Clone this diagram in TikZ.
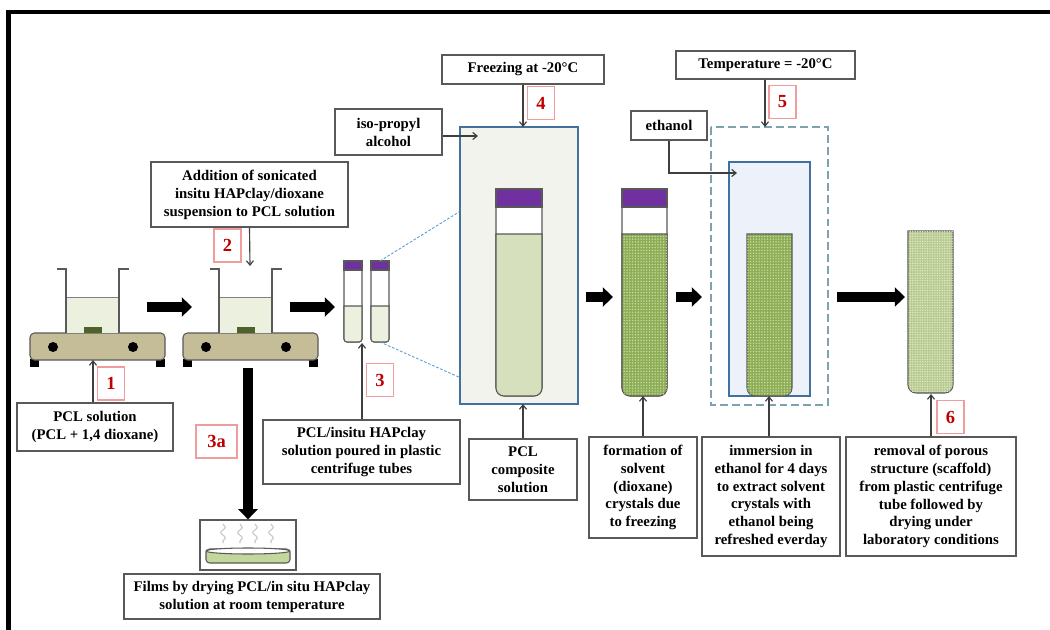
\documentclass[tikz,border=0pt]{standalone}
\usepackage{fontspec}
\setmainfont{Liberation Serif}
\usepackage{tikz}
\usetikzlibrary{arrows.meta,patterns.meta,decorations.pathmorphing}
\definecolor{boxgray}{HTML}{595959}
\definecolor{stepred}{HTML}{C00000}
\definecolor{steppink}{HTML}{F19C9C}
\definecolor{capviolet}{HTML}{7030A0}
\definecolor{platetan}{HTML}{C4BD97}
\definecolor{stirgreen}{HTML}{4F6228}
\definecolor{paleliquid}{HTML}{EBF1DE}
\definecolor{compgreen}{HTML}{D7E0BC}
\definecolor{bathbeige}{HTML}{F3F3ED}
\definecolor{bathblue}{HTML}{EDF1F9}
\definecolor{rimblue}{HTML}{41719C}
\definecolor{freezerteal}{HTML}{7FA3AE}
\definecolor{crystal}{HTML}{8DAE55}
\definecolor{crystaldot}{HTML}{CADBA8}
\definecolor{scaffold}{HTML}{B9CB90}
\definecolor{scaffolddot}{HTML}{E6EDD5}
\definecolor{zoomblue}{HTML}{5B9BD5}
\definecolor{filmgreen}{HTML}{C3D69B}

\newcommand{\px}{0.2mm}
% tube with round bottom: left, right, top, bottom, corner radius
\newcommand{\tubeoutline}[5]{(#1,#3) -- (#1,#4-#5) arc[start angle=180, end angle=90, radius=#5] -- (#2-#5,#4) arc[start angle=90, end angle=0, radius=#5] -- (#2,#3) -- cycle}

\begin{document}
\begin{tikzpicture}[x=0.2mm, y=-0.2mm,
  textbox/.style={draw=boxgray, fill=white, line width=0.7pt, align=center, inner sep=0pt,
    font=\fontsize{8.4}{10.2}\selectfont\bfseries},
  stepno/.style={draw=steppink, fill=white, text=stepred, line width=0.6pt, inner sep=0pt,
    minimum width=27*\px, minimum height=33*\px, font=\fontsize{10.5}{12}\selectfont\bfseries},
  fatarrow/.style={line width=5.4pt, -{Triangle[length=5.8pt, width=10.8pt]}},
  thinarrow/.style={draw=boxgray!70!black, line width=0.65pt, -{Straight Barb[length=2.5pt, width=4pt]}},
  tubeline/.style={draw=boxgray, line width=0.6pt},
  bath/.style={draw=rimblue, line width=1.4pt}]

  \useasboundingbox (0,0) rectangle (1050,630);

  % page frame
  \draw[line width=2.3pt] (8.5,630) -- (8.5,12) -- (1050,12);

  % first stirrer
  \fill (30,359) rectangle (39,367);
  \fill (156,359) rectangle (165,367);
  \draw[tubeline, fill=platetan, rounded corners=2.5pt] (30,333) rectangle (165,360);
  \fill (53,347) circle[radius=5];
  \fill (133,347) circle[radius=5];
  \draw[draw=gray, fill=paleliquid, line width=0.5pt] (66,297) rectangle (119,333);
  \fill[stirgreen] (84,327) rectangle (102,333);
  \draw[tubeline] (57,269) -- (66,269) -- (66,333);
  \draw[tubeline] (119,333) -- (119,269) -- (129,269);

  % second stirrer
  \begin{scope}[shift={(153,0)}]
    \fill (30,359) rectangle (39,367);
    \fill (156,359) rectangle (165,367);
    \draw[tubeline, fill=platetan, rounded corners=2.5pt] (30,333) rectangle (165,360);
    \fill (53,347) circle[radius=5];
    \fill (133,347) circle[radius=5];
    \draw[draw=gray, fill=paleliquid, line width=0.5pt] (66,297) rectangle (119,333);
    \fill[stirgreen] (84,327) rectangle (102,333);
    \draw[tubeline] (57,269) -- (66,269) -- (66,333);
    \draw[tubeline] (119,333) -- (119,269) -- (129,269);
  \end{scope}

  % small centrifuge tubes
  \draw[tubeline, fill=white] \tubeoutline{344}{362}{270}{342}{3};
  \draw[tubeline, fill=paleliquid] \tubeoutline{344}{362}{306}{342}{3};
  \draw[tubeline, fill=capviolet] (344,261) rectangle (362,270);
  \draw[tubeline, fill=white] \tubeoutline{371}{389}{270}{342}{3};
  \draw[tubeline, fill=paleliquid] \tubeoutline{371}{389}{306}{342}{3};
  \draw[tubeline, fill=capviolet] (371,261) rectangle (389,270);

  % zoom lines to the big tube
  \draw[zoomblue, line width=0.5pt, dash pattern=on 1.5pt off 1pt] (380,261) -- (496,189);
  \draw[zoomblue, line width=0.5pt, dash pattern=on 1.5pt off 1pt] (380,342) -- (497,394);

  % freezer bath with composite tube
  \draw[bath, fill=bathbeige] (460,127) rectangle (578,404);
  \draw[tubeline, fill=white] \tubeoutline{496}{542}{207}{396}{8};
  \draw[tubeline, fill=compgreen] \tubeoutline{496}{542}{234}{396}{8};
  \draw[tubeline, fill=capviolet, line width=0.8pt] (496,189) rectangle (542,207);

  % frozen tube with crystals
  \draw[tubeline, fill=white] \tubeoutline{622}{667}{207}{396}{8};
  \draw[tubeline, fill=crystal, postaction={pattern={Dots[distance=1.6pt, radius=0.45pt]}, pattern color=crystaldot}] \tubeoutline{622}{667}{234}{396}{8};
  \draw[tubeline, fill=capviolet, line width=0.8pt] (622,189) rectangle (667,207);

  % ethanol bath in the freezer
  \draw[freezerteal, line width=1.4pt, dash pattern=on 4.5pt off 2.3pt] (711,127) rectangle (828,405);
  \draw[bath, fill=bathblue] (729,162) rectangle (810,396);
  \draw[tubeline, fill=crystal, postaction={pattern={Dots[distance=1.6pt, radius=0.45pt]}, pattern color=crystaldot}] \tubeoutline{747}{792}{234}{396}{8};

  % dried scaffold
  \draw[tubeline, fill=scaffold, postaction={pattern={Dots[distance=1.4pt, radius=0.4pt]}, pattern color=scaffolddot}] \tubeoutline{908}{953}{231}{393}{8};

  % film in a dish
  \node[textbox, minimum width=96*\px, minimum height=50*\px] (dishbox) at (248,545) {};
  \foreach \sx in {223,240,255,271}
    \draw[gray!45, line width=0.6pt, decorate, decoration={snake, amplitude=1.3pt, segment length=6pt}] (\sx,524) -- (\sx,543);
  \draw[tubeline, fill=filmgreen, rounded corners=2pt] (206,549) rectangle (290,563);
  \draw[tubeline, fill=white] (248,551) ellipse[x radius=42, y radius=3];

  % points on the drawings
  \coordinate (plate1) at (93,360);
  \coordinate (beaker2) at (250,266);
  \coordinate (tubeS) at (362,343);
  \coordinate (isoend) at (478,136);
  \coordinate (bath4top) at (523,127);
  \coordinate (bath4bot) at (523,404);
  \coordinate (crystalbot) at (643,396);
  \coordinate (bath5top) at (765,127);
  \coordinate (ethend) at (737,173);
  \coordinate (soakbot) at (769,396);
  \coordinate (scaffoldbot) at (931,394);
  \coordinate (a1s) at (147,307);
  \coordinate (a1e) at (192,307);
  \coordinate (a2s) at (290,307);
  \coordinate (a2e) at (335,307);
  \coordinate (a3s) at (586,297);
  \coordinate (a3e) at (613,297);
  \coordinate (a4s) at (676,297);
  \coordinate (a4e) at (702,297);
  \coordinate (a5s) at (837,297);
  \coordinate (a5e) at (905,297);
  \coordinate (filmstart) at (248,368);

  % text boxes
  \node[textbox, minimum width=197*\px, minimum height=65*\px] (addition) at (249.5,194.5)
    {Addition of sonicated\\insitu HAPclay/dioxane\\suspension to PCL solution};
  \node[textbox, minimum width=156*\px, minimum height=48*\px] (pclsol) at (95,427)
    {PCL solution\\(PCL + 1,4 dioxane)};
  \node[textbox, minimum width=256*\px, minimum height=45*\px] (films) at (252,596.5)
    {Films by drying PCL/in situ HAPclay\\solution at room temperature};
  \node[textbox, minimum width=197*\px, minimum height=64*\px] (poured) at (361.5,452)
    {PCL/insitu HAPclay\\solution poured in plastic\\centrifuge tubes};
  \node[textbox, minimum width=107*\px, minimum height=46*\px] (isoprop) at (388.5,132)
    {iso-propyl\\alcohol};
  \node[textbox, minimum width=162*\px, minimum height=29*\px] (freezing) at (523,69.5)
    {Freezing at -20°C};
  \node[textbox, minimum width=108*\px, minimum height=61*\px] (composite) at (523,469.5)
    {PCL\\composite\\solution};
  \node[textbox, minimum width=108*\px, minimum height=101*\px] (formation) at (643,487.5)
    {formation of\\solvent\\(dioxane)\\crystals due\\to freezing};
  \node[textbox, minimum width=179*\px, minimum height=28*\px] (temperature) at (765.5,65)
    {Temperature = -20°C};
  \node[textbox, minimum width=76*\px, minimum height=29*\px] (ethanol) at (669,125.5)
    {ethanol};
  \node[textbox, minimum width=138*\px, minimum height=119*\px] (immersion) at (771,496.5)
    {immersion in\\ethanol for 4 days\\to extract solvent\\crystals with\\ethanol being\\refreshed everday};
  \node[textbox, minimum width=170*\px, minimum height=119*\px] (removal) at (931,496.5)
    {removal of porous\\structure (scaffold)\\from plastic centrifuge\\tube followed by\\drying under\\laboratory conditions};

  % step numbers
  \node[stepno] (step1) at (111,383.5) {1};
  \node[stepno] (step2) at (227.5,245.5) {2};
  \node[stepno, minimum width=41*\px] (step3a) at (216.5,441.5) {3a};
  \node[stepno] (step3) at (380,380) {3};
  \node[stepno] (step4) at (541,103) {4};
  \node[stepno] (step5) at (782.5,102) {5};
  \node[stepno] (step6) at (950.5,417) {6};

  % thin pointers
  \draw[thinarrow] (pclsol.north -| plate1) -- (plate1);
  \draw[thinarrow] (addition.south) -- (beaker2);
  \draw[thinarrow] (poured.north -| tubeS) -- (tubeS);
  \draw[thinarrow] (isoprop.east |- isoend) -- (isoend);
  \draw[thinarrow] (freezing.south) -- (bath4top);
  \draw[thinarrow] (composite.north) -- (bath4bot);
  \draw[thinarrow] (formation.north) -- (crystalbot);
  \draw[thinarrow] (temperature.south -| bath5top) -- (bath5top);
  \draw[thinarrow] (ethanol.south) |- (ethend);
  \draw[thinarrow] (immersion.north -| soakbot) -- (soakbot);
  \draw[thinarrow] (removal.north) -- (scaffoldbot);

  % process arrows
  \draw[fatarrow] (a1s) -- (a1e);
  \draw[fatarrow] (a2s) -- (a2e);
  \draw[fatarrow] (a3s) -- (a3e);
  \draw[fatarrow] (a4s) -- (a4e);
  \draw[fatarrow] (a5s) -- (a5e);
  \draw[fatarrow] (filmstart) -- (dishbox.north);

\end{tikzpicture}
\end{document}
